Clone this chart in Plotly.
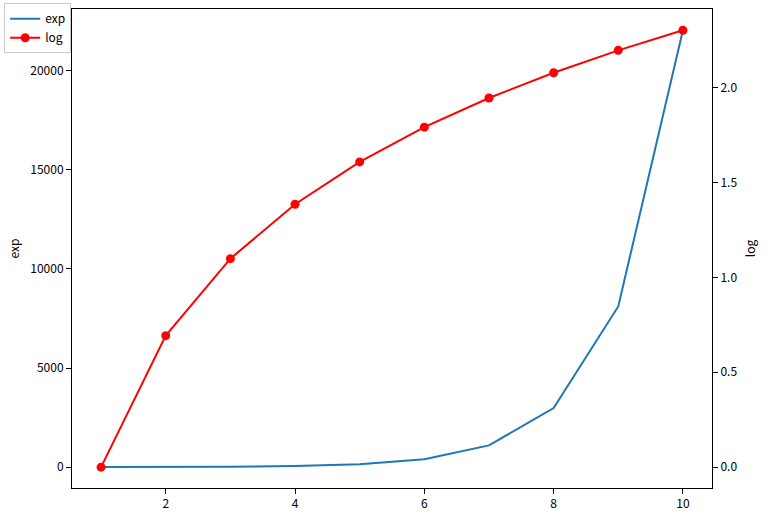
import plotly.graph_objects as go

x_vals = [1, 2, 3, 4, 5, 6, 7, 8, 9, 10]
exp_vals = [2.718, 7.389, 20.09, 54.6, 148.4, 403.4, 1096.6, 2981.0, 8103.1, 22026.5]
log_vals = [0.0, 0.693, 1.099, 1.386, 1.609, 1.792, 1.946, 2.079, 2.197, 2.303]
exp_ticks = [0, 5000, 10000, 15000, 20000]
log_ticks = [0.0, 0.5, 1.0, 1.5, 2.0]

font = "Noto Sans CJK SC, DejaVu Sans, sans-serif"

fig = go.Figure()
fig.add_trace(go.Scatter(x=x_vals, y=exp_vals, mode="lines", name="exp",
                         line=dict(color="#1f77b4", width=2), yaxis="y"))
fig.add_trace(go.Scatter(x=x_vals, y=log_vals, mode="lines+markers", name="log",
                         line=dict(color="red", width=2),
                         marker=dict(color="red", size=9), yaxis="y2"))

axis_common = dict(showgrid=False, zeroline=False, showline=True, linecolor="black",
                   linewidth=1, ticks="outside", ticklen=5, tickcolor="black",
                   tickfont=dict(size=12, color="black", family=font))

fig.update_layout(
    width=770, height=521,
    margin=dict(l=72, r=58, t=9, b=33, autoexpand=False),
    plot_bgcolor="white", paper_bgcolor="white",
    font=dict(family=font, size=12, color="black"),
    xaxis=dict(range=[0.55, 10.45], tickvals=[2, 4, 6, 8, 10], mirror=True, **axis_common),
    yaxis=dict(range=[-1050, 23100], tickvals=exp_ticks,
               ticktext=[str(v) for v in exp_ticks],
               title=dict(text="exp", font=dict(size=12), standoff=8), **axis_common),
    yaxis2=dict(range=[-0.11, 2.415], tickvals=log_ticks,
                ticktext=["%.1f" % v for v in log_ticks],
                overlaying="y", side="right",
                title=dict(text="log", font=dict(size=12), standoff=10), **axis_common),
    showlegend=True,
    legend=dict(x=-0.106, y=1.012, xanchor="left", yanchor="top",
                bgcolor="rgba(255,255,255,0.8)", bordercolor="#cccccc", borderwidth=1,
                font=dict(size=12, family=font), tracegroupgap=0, itemwidth=30),
)

fig.write_html("out.html", config={"displayModeBar": False},
               post_script="document.body.style.margin='0';")
